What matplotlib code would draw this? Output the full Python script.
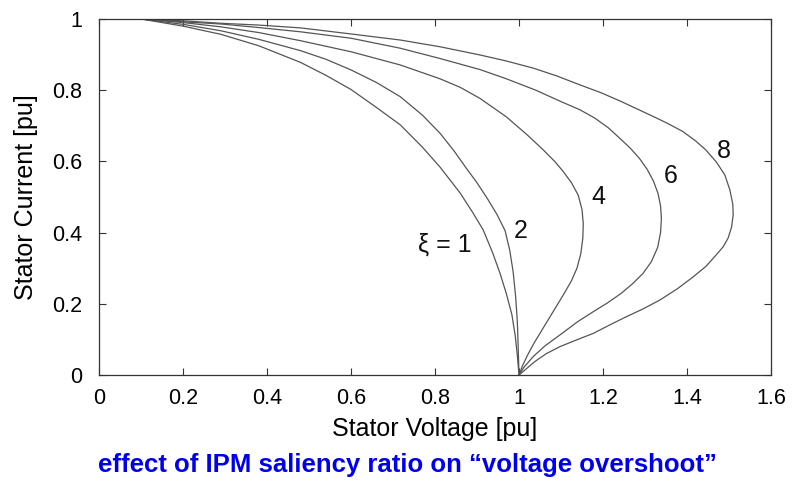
import matplotlib.pyplot as plt

plt.rcParams['font.family'] = ['Liberation Sans', 'DejaVu Sans']

# Stator voltage / current points [pu], one pair per saliency ratio
v_xi1 = [0.10, 0.20, 0.29, 0.38, 0.48, 0.54, 0.60, 0.66, 0.717, 0.77, 0.812, 0.860,
         0.89, 0.915, 0.937, 0.955, 0.970, 0.983, 0.991, 0.996, 1.0]
i_xi1 = [1.00, 0.980, 0.957, 0.925, 0.878, 0.842, 0.802, 0.752, 0.703, 0.640, 0.584, 0.511,
         0.456, 0.407, 0.344, 0.285, 0.228, 0.170, 0.110, 0.055, 0.0]

v_xi2 = [0.10, 0.20, 0.29, 0.38, 0.48, 0.54, 0.60, 0.66, 0.717, 0.77, 0.812, 0.845,
         0.875, 0.90, 0.925, 0.948, 0.967, 0.978, 0.986, 0.992, 0.996, 0.998, 1.0]
i_xi2 = [1.00, 0.985, 0.967, 0.943, 0.911, 0.887, 0.857, 0.822, 0.782, 0.730, 0.679, 0.630,
         0.580, 0.540, 0.495, 0.450, 0.405, 0.350, 0.290, 0.220, 0.150, 0.080, 0.0]

v_xi4 = [0.10, 0.20, 0.29, 0.38, 0.48, 0.60, 0.717, 0.812, 0.86, 0.907, 0.97, 1.02,
         1.058, 1.085, 1.105, 1.125, 1.141, 1.150, 1.153, 1.152, 1.147, 1.138, 1.125,
         1.108, 1.090, 1.072, 1.054, 1.036, 1.020, 1.008, 1.0]
i_xi4 = [1.00, 0.990, 0.978, 0.962, 0.939, 0.908, 0.871, 0.832, 0.808, 0.777, 0.725, 0.674,
         0.632, 0.600, 0.572, 0.540, 0.505, 0.465, 0.425, 0.385, 0.340, 0.300, 0.265,
         0.230, 0.195, 0.160, 0.125, 0.090, 0.055, 0.025, 0.0]

v_xi6 = [0.10, 0.20, 0.29, 0.38, 0.48, 0.60, 0.717, 0.812, 0.907, 0.97, 1.04, 1.10,
         1.145, 1.18, 1.212, 1.240, 1.265, 1.287, 1.305, 1.320, 1.331, 1.337, 1.339,
         1.337, 1.330, 1.315, 1.295, 1.270, 1.244, 1.210, 1.177, 1.140, 1.098, 1.062,
         1.034, 1.012, 1.0]
i_xi6 = [1.00, 0.992, 0.986, 0.976, 0.964, 0.946, 0.918, 0.889, 0.858, 0.832, 0.800, 0.768,
         0.745, 0.722, 0.695, 0.665, 0.637, 0.608, 0.578, 0.545, 0.510, 0.475, 0.440,
         0.400, 0.358, 0.318, 0.285, 0.256, 0.230, 0.202, 0.178, 0.150, 0.113, 0.082,
         0.052, 0.022, 0.0]

v_xi8 = [0.10, 0.20, 0.29, 0.38, 0.48, 0.60, 0.717, 0.812, 0.907, 0.97, 1.034, 1.09,
         1.145, 1.195, 1.240, 1.28, 1.32, 1.355, 1.39, 1.42, 1.445, 1.470, 1.490, 1.502,
         1.509, 1.510, 1.506, 1.498, 1.486, 1.470, 1.445, 1.415, 1.378, 1.336, 1.296,
         1.256, 1.215, 1.177, 1.138, 1.098, 1.065, 1.038, 1.016, 1.0]
i_xi8 = [1.00, 0.995, 0.988, 0.983, 0.975, 0.958, 0.941, 0.922, 0.899, 0.882, 0.862, 0.840,
         0.815, 0.793, 0.770, 0.748, 0.726, 0.706, 0.684, 0.658, 0.632, 0.598, 0.562, 0.520,
         0.480, 0.450, 0.415, 0.385, 0.360, 0.338, 0.305, 0.276, 0.243, 0.211, 0.186,
         0.164, 0.140, 0.117, 0.099, 0.080, 0.060, 0.038, 0.016, 0.0]

curve_labels = ['\u03be = 1', '2', '4', '6', '8']
label_v = [0.824, 1.005, 1.189, 1.360, 1.487]
label_i = [0.365, 0.404, 0.499, 0.558, 0.628]

fig = plt.figure(figsize=(7.92, 5.0), dpi=100)
ax = fig.add_axes([0.125, 0.25, 0.8485, 0.712])

for v, i in [(v_xi1, i_xi1), (v_xi2, i_xi2), (v_xi4, i_xi4), (v_xi6, i_xi6), (v_xi8, i_xi8)]:
    ax.plot(v, i, color='#555555', lw=0.9)

for txt, x, y in zip(curve_labels, label_v, label_i):
    ax.text(x, y, txt, fontsize=18, ha='center', va='center', color='#111111')

ax.set_xlim(0, 1.6)
ax.set_ylim(0, 1)
ax.set_xticks([0, 0.2, 0.4, 0.6, 0.8, 1, 1.2, 1.4, 1.6])
ax.set_xticklabels(['0', '0.2', '0.4', '0.6', '0.8', '1', '1.2', '1.4', '1.6'])
ax.set_yticks([0, 0.2, 0.4, 0.6, 0.8, 1])
ax.set_yticklabels(['0', '0.2', '0.4', '0.6', '0.8', '1'])
ax.tick_params(direction='in', top=True, right=True, length=5, width=0.8,
               labelsize=15.5, color='#333333')
ax.tick_params(axis='x', pad=9)
ax.tick_params(axis='y', pad=12)
for s in ax.spines.values():
    s.set_color('#333333')
    s.set_linewidth(0.9)

ax.set_xlabel('Stator Voltage [pu]', fontsize=18, labelpad=6)
ax.set_ylabel('Stator Current [pu]', fontsize=18, labelpad=10)

fig.text(0.515, 0.07, 'effect of IPM saliency ratio on \u201cvoltage overshoot\u201d',
         color='#0000ee', fontsize=18.5, fontweight='bold', ha='center', va='center')

plt.savefig('out.png', dpi=100)
